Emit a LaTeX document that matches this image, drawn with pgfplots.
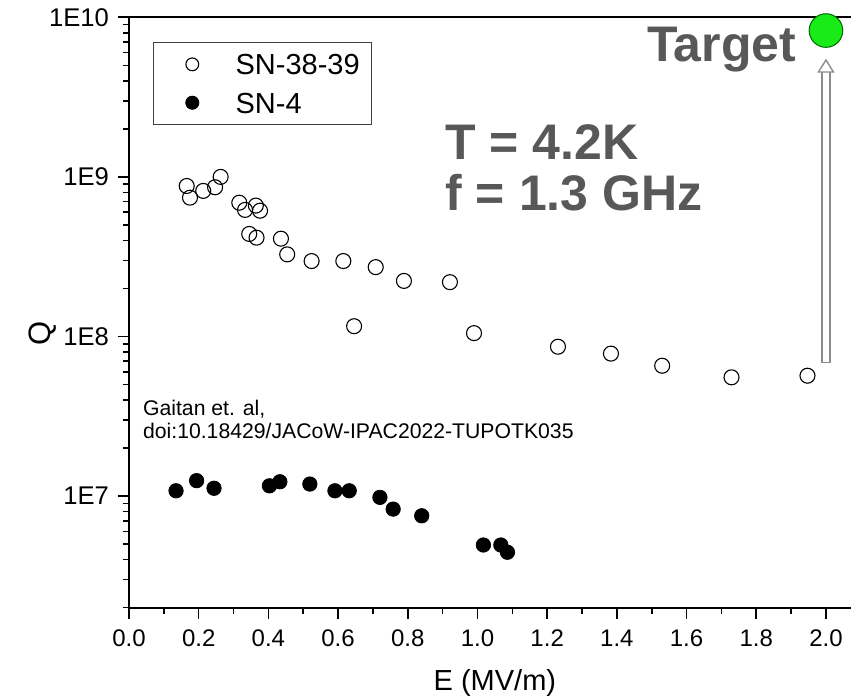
\documentclass[border=0pt]{standalone}
\usepackage{fontspec}
\setmainfont{Liberation Sans}
\usepackage{pgfplots}
\pgfplotsset{compat=1.18}
\definecolor{tgtgreen}{RGB}{25,235,25}
\definecolor{txtgray}{RGB}{88,88,88}
\definecolor{arrgray}{RGB}{140,140,140}
\pgfplotsset{mylegimg/.style={legend image code/.code={\path[draw=none,fill=none] (0pt,-4pt) rectangle (26.4pt,4pt); \draw[##1, mark size=3.2pt] plot coordinates {(13.2pt,0pt)};}}}
\begin{document}
\begin{tikzpicture}
\useasboundingbox (-64.5pt,-45.65pt) rectangle (361pt,303.85pt);
\begin{axis}[
  scale only axis,
  width=365.9pt, height=295.2pt,
  xmin=0, xmax=2.1,
  ymode=log, ymin=2e6, ymax=1e10,
  clip=false,
  axis line style={line width=0.9pt},
  tick align=outside,
  xtick pos=bottom, ytick pos=left,
  major tick length=5.5pt, minor tick length=3pt,
  every tick/.style={black, line width=0.8pt},
  xtick={0,0.2,0.4,0.6,0.8,1.0,1.2,1.4,1.6,1.8,2.0},
  xticklabels={0.0,0.2,0.4,0.6,0.8,1.0,1.2,1.4,1.6,1.8,2.0},
  minor xtick={0.1,0.3,0.5,0.7,0.9,1.1,1.3,1.5,1.7,1.9},
  ytick={1e7,1e8,1e9,1e10},
  yticklabels={1E7,1E8,1E9,1E10},
  minor ytick={2e6,3e6,4e6,5e6,6e6,7e6,8e6,9e6,2e7,3e7,4e7,5e7,6e7,7e7,8e7,9e7,2e8,3e8,4e8,5e8,6e8,7e8,8e8,9e8,2e9,3e9,4e9,5e9,6e9,7e9,8e9,9e9},
  xticklabel style={font=\fontsize{12}{14}\selectfont, yshift=-2pt},
  yticklabel style={font=\fontsize{12.8}{14}\selectfont, xshift=-1pt},
  xlabel={E (MV/m)},
  ylabel={Q},
  xlabel style={font=\fontsize{14.5}{16}\selectfont, at={(axis description cs:0.5,-0.1275)}, anchor=center},
  ylabel style={font=\fontsize{15.5}{17}\selectfont, at={(axis description cs:-0.1175,0.465)}, anchor=center},
  legend style={at={(axis description cs:0.0332,0.9577)}, anchor=north west,
    draw=black!75, line width=0.6pt, inner xsep=6pt, inner ysep=5.5pt,
    font=\fontsize{14.5}{16}\selectfont,
    nodes={inner sep=0pt, text height=10.5pt, text depth=0pt},
    row sep=8.7pt, column sep=8.45pt},
  legend cell align=left,
]
\addplot[only marks, mark=o, mark size=3.75pt, mark options={black, line width=0.55pt}, mylegimg]
coordinates {
(0.1656,8.77e8) (0.175,7.41e8) (0.213,8.17e8) (0.247,8.61e8) (0.263,1.00e9)
(0.3165,6.89e8) (0.333,6.21e8) (0.364,6.61e8) (0.376,6.14e8) (0.345,4.39e8)
(0.366,4.16e8) (0.436,4.10e8) (0.454,3.27e8) (0.524,2.97e8) (0.615,2.97e8)
(0.708,2.72e8) (0.789,2.23e8) (0.921,2.19e8) (0.646,1.16e8) (0.990,1.05e8)
(1.231,8.63e7) (1.383,7.81e7) (1.530,6.56e7) (1.729,5.55e7) (1.947,5.68e7)
};
\addlegendentry{SN-38-39}
\addplot[only marks, mark=*, mark size=3.6pt, mark options={black, fill=black}, mylegimg]
coordinates {
(0.135,1.08e7) (0.194,1.25e7) (0.244,1.12e7) (0.403,1.16e7) (0.433,1.23e7)
(0.519,1.19e7) (0.591,1.08e7) (0.632,1.08e7) (0.720,9.82e6) (0.758,8.29e6)
(0.840,7.53e6) (1.017,4.94e6) (1.067,4.94e6) (1.086,4.45e6)
};
\addlegendentry{SN-4}
% arrow
\draw[arrgray, line width=0.7pt, fill=white] (axis cs:1.9885,6.88e7) rectangle (axis cs:2.0115,4.6e9);
\draw[arrgray, line width=0.7pt, fill=white] (axis cs:1.9785,4.54e9) -- (axis cs:2.0,5.40e9) -- (axis cs:2.0215,4.54e9) -- cycle;
\addplot[forget plot, only marks, mark=*, mark size=8.4pt, mark options={fill=tgtgreen, draw=black!60!green, line width=0.5pt}]
coordinates {(2.0,8.26e9)};
\end{axis}
\node[anchor=base west, inner sep=0pt, text=txtgray, font=\fontsize{25}{30}\selectfont\bfseries] at (258.85pt,273pt) {Target};
\node[anchor=base west, inner sep=0pt, text=txtgray, font=\fontsize{25}{30}\selectfont\bfseries] at (158pt,224.2pt) {T = 4.2K};
\node[anchor=base west, inner sep=0pt, text=txtgray, font=\fontsize{25}{30}\selectfont\bfseries] at (158pt,198.5pt) {f = 1.3 GHz};
\node[anchor=base west, inner sep=0pt, font=\fontsize{10.6}{12}\selectfont] at (6.85pt,96pt) {Gaitan et. al,};
\node[anchor=base west, inner sep=0pt, font=\fontsize{10.6}{12}\selectfont] at (6.85pt,84.7pt) {doi:10.18429/JACoW-IPAC2022-TUPOTK035};
\end{tikzpicture}
\end{document}
